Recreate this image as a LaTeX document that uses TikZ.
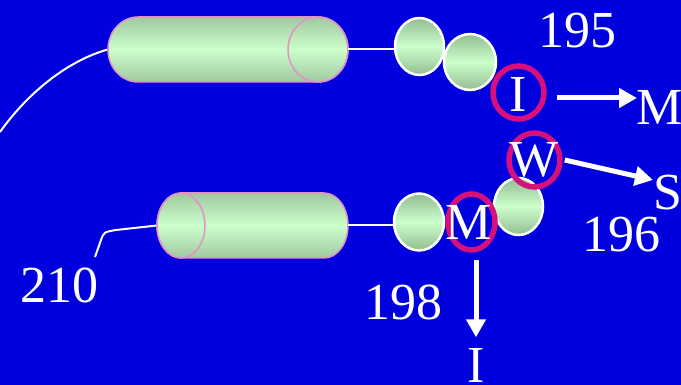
\documentclass[tikz,border=0pt]{standalone}
\usepackage{fontspec}
\setmainfont{Liberation Serif}
\usetikzlibrary{arrows.meta,shapes.geometric}
\definecolor{bgblue}{RGB}{0,0,222}
\definecolor{ringred}{RGB}{214,16,124}
\definecolor{cylpink}{RGB}{226,146,196}
\definecolor{gdark}{RGB}{146,188,146}
\definecolor{glight}{RGB}{204,255,204}
\definecolor{gdarkc}{RGB}{160,200,160}

\begin{document}
\begin{tikzpicture}[x=1pt,y=-1pt,
  lbl/.style={text=white,inner sep=0pt,font=\fontsize{52}{60}\selectfont},
  bead/.style={ellipse,draw=white,line width=2.5pt,top color=gdark,bottom color=gdark,middle color=glight,inner sep=0pt},
  ring/.style={ellipse,draw=ringred,line width=5.5pt,inner sep=0pt},
  lead/.style={white,line width=2pt},
  arr/.style={white,line width=5pt,-{Triangle[length=18pt,width=19pt]}},
  cylfill/.style={top color=gdarkc,bottom color=gdarkc,middle color=glight},
  cylline/.style={draw=cylpink,line width=1.5pt}]

% background
\fill[bgblue] (0,0) rectangle (681,385);
\useasboundingbox (0,0) rectangle (681,385);

% anchors for the two cylinders
\node[minimum width=240pt,minimum height=65pt,inner sep=0pt] (cylA) at (228,49.5) {};
\node[minimum width=191pt,minimum height=65pt,inner sep=0pt] (cylB) at (252.5,225.5) {};

% leader lines
\coordinate (tl) at (0,132);
\draw[lead] (tl) .. controls (30,90) and (70,60) .. (cylA.west);
\coordinate (t210) at (95,257);
\draw[lead] (t210) -- (101,240) .. controls (104,232) .. (116,230) -- (cylB.west);

% upper cylinder (visible face on the right)
\shade[cylfill] (138,17) -- (318,17) arc[start angle=90,end angle=-90,x radius=30pt,y radius=32.5pt]
  -- (138,82) arc[start angle=270,end angle=90,x radius=30pt,y radius=32.5pt] -- cycle;
\draw[cylline] (138,17) -- (318,17) arc[start angle=90,end angle=-90,x radius=30pt,y radius=32.5pt]
  -- (138,82) arc[start angle=270,end angle=90,x radius=30pt,y radius=32.5pt] -- cycle;
\draw[cylline] (318,49.5) ellipse[x radius=30pt,y radius=32.5pt];

% lower cylinder (visible face on the left)
\shade[cylfill] (181,193) -- (324,193) arc[start angle=90,end angle=-90,x radius=24pt,y radius=32.5pt]
  -- (181,258) arc[start angle=270,end angle=90,x radius=24pt,y radius=32.5pt] -- cycle;
\draw[cylline] (181,193) -- (324,193) arc[start angle=90,end angle=-90,x radius=24pt,y radius=32.5pt]
  -- (181,258) arc[start angle=270,end angle=90,x radius=24pt,y radius=32.5pt] -- cycle;
\draw[cylline] (181,225.5) ellipse[x radius=24pt,y radius=32.5pt];

% beads
\node[bead,minimum width=49pt,minimum height=57pt] (e1) at (419.5,46.5) {};
\node[bead,minimum width=52pt,minimum height=56pt] (e2) at (470,62) {};
\node[bead,minimum width=50pt,minimum height=57pt] (e3) at (419,222) {};
\node[bead,minimum width=49pt,minimum height=57pt] (e4) at (518.5,206.5) {};

% links from cylinders to beads
\draw[lead] (cylA.east) -- (cylA.east -| e1.west);
\draw[lead] (cylB.east) -- (cylB.east -| e3.west);

% marked residues
\node[ring,minimum width=51pt,minimum height=53pt] (cI) at (518.5,92.5) {};
\node[ring,minimum width=51pt,minimum height=54pt] (cW) at (534.5,160) {};
\node[ring,minimum width=47pt,minimum height=56pt] (cM) at (471.5,222) {};
\node[lbl] (tI) at (518.5,94.5) {I};
\node[lbl] (tW) at (534.5,159.5) {W};
\node[lbl] (tM) at (468.5,222.5) {M};

% labels
\node[lbl] (n195) at (577.5,30.5) {195};
\node[lbl] (n196) at (621,235) {196};
\node[lbl] (n198) at (403,302) {198};
\node[lbl] (n210) at (59,285.5) {210};
\node[lbl,anchor=west] (mR) at (636,107.5) {M};
\node[lbl,anchor=west] (sR) at (653,192.5) {S};
\node[lbl] (iB) at (476,365.5) {I};

% substitutions
\draw[arr] ([xshift=10pt,yshift=-5.5pt]cI.east) -- ([xshift=1pt,yshift=9.5pt]mR.west);
\draw[arr] ([xshift=2pt]cW.east) -- ([yshift=12.5pt]sR.west);
\draw[arr] ([xshift=4.5pt,yshift=-7.5pt]cM.south) -- ([yshift=11pt]iB.north);

\end{tikzpicture}
\end{document}
